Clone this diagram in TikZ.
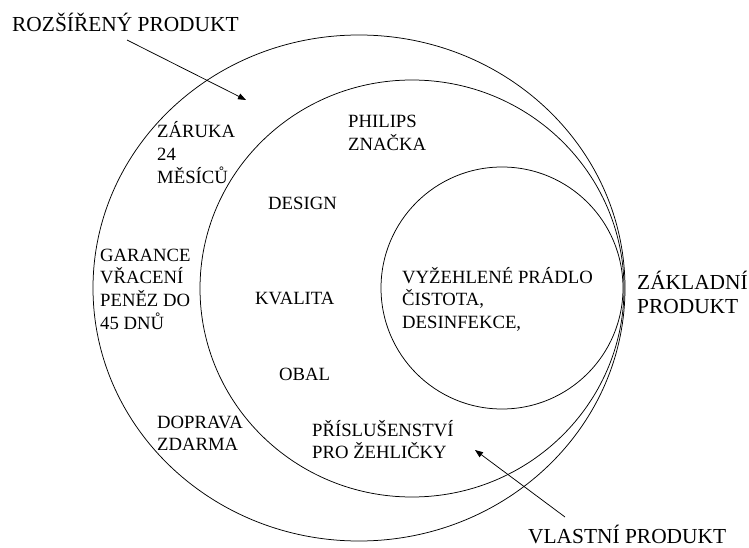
\documentclass[tikz,border=0pt]{standalone}
\usepackage{fontspec}
\setmainfont{Liberation Serif}
\usetikzlibrary{arrows.meta,shapes.geometric}
\newcommand\stk[1]{\vtop{\halign{##\hfil\cr#1\crcr}}}
\tikzset{
  ring/.style={draw, ellipse, inner sep=0pt, line width=0.75pt},
  inlbl/.style={anchor=base west, inner sep=0pt, font=\fontsize{18.7}{22.8}\selectfont},
  outlbl/.style={anchor=base west, inner sep=0pt, font=\fontsize{21.4}{24.2}\selectfont},
  pointer/.style={line width=0.75pt, -{Triangle[length=8pt,width=6pt]}}
}
\begin{document}
\begin{tikzpicture}[x=1pt,y=-1pt]
\useasboundingbox (0,0) rectangle (749,548);
% circles
\node[ring, minimum width=532pt, minimum height=506pt] (outer) at (359,288) {};
\node[ring, minimum width=424pt, minimum height=417pt] (middle) at (412,288.5) {};
\node[ring, minimum width=242pt, minimum height=242pt] (inner) at (502,288) {};
% outer labels
\node[outlbl] (rozs) at (12,32) {ROZŠÍŘENÝ PRODUKT};
\node[outlbl] (zakl) at (637,289) {\stk{ZÁKLADNÍ\cr PRODUKT}};
\node[outlbl] (vlas) at (528,543) {VLASTNÍ PRODUKT};
% ring texts
\node[inlbl] (zaruka) at (157,138) {\stk{ZÁRUKA\cr 24\cr MĚSÍCŮ}};
\node[inlbl] (garance) at (100,261) {\stk{GARANCE\cr VŘACENÍ\cr PENĚZ DO\cr 45 DNŮ}};
\node[inlbl] (doprava) at (157,428) {\stk{DOPRAVA\cr ZDARMA}};
\node[inlbl] (philips) at (348,128) {\stk{PHILIPS\cr ZNAČKA}};
\node[inlbl] (design) at (268,209) {DESIGN};
\node[inlbl] (kvalita) at (255,304) {KVALITA};
\node[inlbl] (obal) at (279,380) {OBAL};
\node[inlbl] (prisl) at (312,436) {\stk{PŘÍSLUŠENSTVÍ\cr PRO ŽEHLIČKY}};
\node[inlbl] (vyzeh) at (402,283) {\stk{VYŽEHLENÉ PRÁDLO\cr ČISTOTA,\cr DESINFEKCE,}};
% arrows
\coordinate (a1s) at (127,40);
\coordinate (a1e) at (246,100);
\coordinate (a2s) at (565,517);
\coordinate (a2e) at (475,450);
\draw[pointer] (a1s) -- (a1e);
\draw[pointer] (a2s) -- (a2e);
\end{tikzpicture}
\end{document}
